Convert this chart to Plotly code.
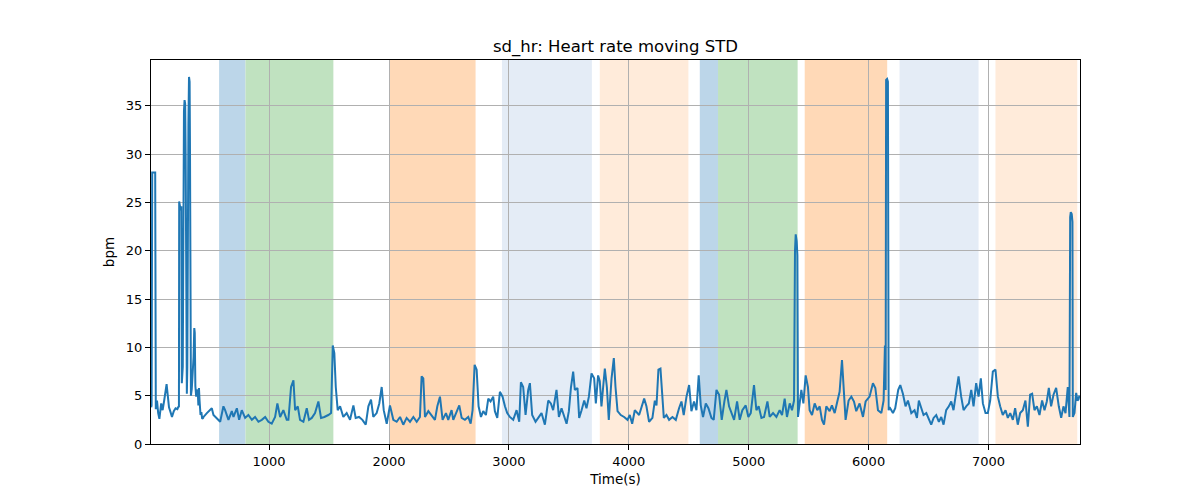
import plotly.graph_objects as go

# ---- data ----
time_s = [
    17, 20, 25, 50, 55, 65, 75, 85, 100, 112, 125, 135, 145, 155, 165, 178, 190, 205, 220, 235, 245,
    248, 250, 257, 262, 268, 272, 280, 285, 290, 295, 300, 304, 308, 314, 318, 322, 327, 332, 337, 340,
    344, 348, 355, 362, 370, 376, 380, 385, 392, 398, 405, 410, 415, 420, 428, 435, 442, 450,
    453, 481, 508, 522, 536, 564, 592, 619, 633, 661, 689, 703, 731, 750, 772, 800, 827, 856, 883, 911,
    939, 967, 994, 1022, 1050, 1069, 1092, 1119, 1147,
    1161, 1183, 1203, 1217, 1239, 1258, 1286, 1314, 1333, 1356, 1383, 1411, 1433, 1461, 1494, 1517,
    1531, 1544, 1556, 1572, 1592, 1619, 1647, 1675, 1703, 1722, 1750, 1778, 1806, 1828, 1850, 1869,
    1897, 1919, 1939, 1956, 1981, 2008, 2036, 2064, 2092, 2119,
    2147, 2175, 2203, 2231, 2258, 2272, 2286, 2300, 2328, 2356, 2383, 2403, 2425, 2447, 2475, 2494,
    2522, 2536, 2558, 2586, 2606, 2633, 2661, 2681, 2697, 2714, 2731, 2747, 2767, 2786, 2808, 2828,
    2847, 2869, 2883, 2903, 2925, 2947, 2967, 2986, 3008, 3036, 3064, 3086,
    3100, 3119, 3139, 3161, 3175, 3194, 3222, 3244, 3272, 3300, 3328, 3350, 3369, 3397, 3417, 3439,
    3461, 3481, 3500, 3517, 3536, 3550, 3572, 3586, 3606, 3628, 3647, 3667, 3689, 3711, 3725, 3744,
    3758, 3772, 3786, 3800, 3817, 3833, 3856, 3875, 3889, 3906, 3933, 3961, 3989, 4008, 4028,
    4050, 4086, 4114, 4128, 4147, 4169, 4197, 4217, 4231, 4247, 4264, 4278, 4292, 4314, 4336, 4364,
    4392, 4419, 4439, 4458, 4481, 4503, 4522, 4544, 4564, 4583, 4600, 4619, 4642, 4664, 4689, 4708,
    4731, 4753, 4775, 4797, 4814, 4836, 4856, 4878, 4903, 4925, 4947, 4975, 4997,
    5017, 5044, 5064, 5083, 5106, 5128, 5156, 5175, 5203, 5231, 5258, 5278, 5300, 5319, 5342, 5361,
    5378, 5386, 5392, 5400, 5406, 5411, 5425, 5439, 5456, 5475, 5494, 5508, 5528, 5550, 5572, 5592,
    5611, 5628, 5647, 5675, 5694, 5717, 5739, 5758, 5778, 5792, 5808, 5833, 5856, 5878, 5897, 5925,
    5953,
    5975, 6008, 6036, 6056, 6078, 6106, 6125, 6136, 6142, 6146, 6154, 6161, 6167, 6175, 6203, 6222,
    6247, 6264, 6286, 6308, 6328, 6356, 6383, 6403, 6419, 6439, 6458, 6481, 6503, 6522, 6542, 6564,
    6586, 6606, 6625, 6647, 6669, 6689, 6708, 6731, 6750, 6772, 6792, 6814, 6836, 6856, 6875, 6897,
    6917, 6936, 6953, 6975, 6994, 7014, 7036, 7058, 7078, 7097, 7119, 7142, 7161, 7181, 7203, 7222,
    7244, 7264, 7286, 7308, 7328, 7347, 7364, 7383, 7403, 7425, 7447, 7467, 7486, 7503, 7522, 7542,
    7564, 7586, 7606, 7625, 7642, 7661, 7675, 7681, 7686, 7694, 7700, 7703, 7717, 7731, 7742, 7750, 7758,
]
sd_hr = [
    3.8, 4.0, 28.1, 28.1, 3.6, 4.5, 3.2, 2.6, 4.2, 3.5, 4.5, 5.3, 6.2, 5.0, 3.8, 3.3, 2.8, 3.4, 3.7, 3.6, 3.9,
    3.8, 25.1, 24.6, 24.2, 24.6, 6.3, 8.0, 33.9, 34.5, 35.6, 35.2, 30.0, 6.0, 5.2, 8.0, 31.0, 33.0, 38.0, 37.5, 31.0,
    6.0, 5.0, 5.7, 7.0, 9.0, 12.0, 11.5, 6.0, 4.9, 5.6, 5.5, 4.0, 5.8, 4.5, 3.0, 3.3, 2.6, 2.7,
    2.8, 3.2, 3.5, 3.7, 3.0, 2.6, 2.3, 3.9, 3.5, 2.5, 3.4, 2.8, 3.7, 2.5, 3.5, 2.7, 3.0, 2.5, 2.8, 2.3,
    2.5, 2.8, 2.3, 2.1, 2.8, 4.2, 2.8, 3.5, 2.5,
    2.5, 5.9, 6.6, 3.5, 3.9, 2.5, 2.3, 3.7, 2.5, 2.7, 3.2, 4.4, 2.7, 2.8, 3.0, 3.2,
    10.2, 9.4, 5.9, 3.5, 3.9, 2.8, 3.2, 2.5, 4.0, 2.7, 2.8, 2.5, 2.0, 3.9, 4.6, 2.8,
    3.2, 4.2, 5.9, 3.5, 2.1, 4.0, 2.5, 2.3, 2.8, 2.0,
    2.7, 2.3, 2.8, 2.3, 2.8, 7.0, 6.8, 2.8, 3.4, 3.0, 2.5, 3.9, 4.9, 2.5, 3.2, 2.5,
    3.5, 2.5, 3.2, 4.0, 2.7, 2.5, 2.8, 2.1, 3.5, 8.2, 7.7, 3.9, 2.8, 3.4, 3.0, 4.7,
    4.4, 4.9, 3.4, 2.7, 5.4, 4.9, 3.9, 3.2, 2.8, 2.5, 3.5, 2.3,
    6.4, 5.9, 3.0, 5.6, 6.3, 3.0, 2.3, 2.7, 3.2, 2.0, 4.5, 4.2, 3.5, 5.6, 2.8, 3.7,
    2.8, 2.1, 3.4, 5.8, 7.5, 5.6, 5.8, 2.7, 3.5, 4.5, 3.7, 4.9, 7.3, 6.8, 4.2, 7.1,
    6.5, 3.9, 5.9, 7.8, 5.9, 2.5, 6.8, 8.9, 5.9, 3.4, 3.0, 2.8, 2.5, 3.0, 2.1,
    3.5, 3.0, 4.0, 4.7, 3.9, 2.3, 2.7, 4.5, 4.0, 7.7, 7.8, 4.9, 2.7, 3.0, 2.5, 2.8,
    2.5, 3.7, 4.4, 3.0, 4.9, 6.1, 3.4, 4.4, 3.5, 7.1, 4.0, 2.8, 4.2, 3.7, 2.7, 2.5,
    5.6, 5.1, 2.5, 4.4, 5.6, 3.9, 3.2, 2.5, 4.4, 2.5, 3.5, 4.0, 2.8,
    3.2, 6.1, 3.5, 3.9, 2.7, 2.8, 4.4, 2.8, 3.2, 2.8, 3.5, 3.0, 4.7, 2.8, 4.2, 3.5,
    4.5, 20.0, 21.7, 21.0, 19.5, 2.8, 4.5, 5.6, 4.2, 7.1, 5.9, 3.5, 3.0, 4.2, 3.5, 3.9,
    2.5, 2.0, 3.9, 3.4, 4.0, 3.2, 4.4, 5.4, 8.7, 5.2, 2.5, 4.5, 4.9, 4.4, 3.4, 4.2,
    2.8,
    4.4, 4.9, 6.3, 5.8, 3.5, 3.2, 4.5, 10.2, 5.6, 37.7, 37.8, 37.5, 3.5, 3.8, 3.2, 3.7,
    5.6, 6.1, 5.2, 3.9, 4.5, 3.2, 3.5, 2.7, 4.5, 3.7, 3.0, 3.2, 2.5, 2.0, 2.7, 3.0,
    2.3, 2.8, 2.0, 3.5, 3.9, 4.4, 3.5, 5.6, 7.0, 4.9, 3.5, 3.9, 4.2, 5.6, 3.9, 6.3,
    4.9, 6.8, 4.2, 3.2, 3.2, 4.5, 7.5, 7.7, 4.9, 3.9, 3.0, 3.5, 2.7, 3.2, 2.5, 3.7,
    2.0, 3.2, 3.5, 4.5, 1.8, 5.1, 5.2, 3.5, 3.9, 3.0, 4.5, 3.5, 4.4, 5.8, 3.9, 5.1,
    5.8, 3.9, 2.7, 3.9, 3.2, 5.9, 2.8, 23.5, 24.0, 23.8, 23.0, 2.8, 3.2, 5.3, 4.5, 4.6, 5.0,
]

# shaded intervals (start, end, colour)
span_start = [583, 803, 2003, 2942, 3758, 4592, 4744, 5467, 6258, 7058]
span_end = [803, 1536, 2722, 3692, 4497, 4744, 5408, 6155, 6917, 7740]
span_color = [
    "rgb(188,214,233)", "rgb(192,226,192)", "rgb(255,217,183)", "rgb(228,236,246)",
    "rgb(255,235,218)", "rgb(188,214,233)", "rgb(192,226,192)", "rgb(255,217,183)",
    "rgb(228,236,246)", "rgb(255,235,218)",
]

x_ticks = [1000, 2000, 3000, 4000, 5000, 6000, 7000]
y_ticks = [0, 5, 10, 15, 20, 25, 30, 35]

fig = go.Figure()
fig.add_trace(go.Scatter(x=time_s, y=sd_hr, mode="lines",
                         line=dict(color="#1f77b4", width=2), showlegend=False))

for s, e, c in zip(span_start, span_end, span_color):
    fig.add_vrect(x0=s, x1=e, fillcolor=c, opacity=1, line_width=0, layer="below")

font = "DejaVu Sans, sans-serif"
W, H = 1192, 492  # page body adds an 8px offset
fig.update_layout(
    width=W, height=H,
    margin=dict(l=143, r=120, t=52, b=56),
    paper_bgcolor="white", plot_bgcolor="white",
    font=dict(family=font, size=13, color="black"),
    title=dict(text="sd_hr: Heart rate moving STD", x=(143 + 1072) / 2 / W, xanchor="center",
               xref="paper" if False else "container",
               y=1 - 38 / H, yanchor="middle", font=dict(size=16.5, family=font)),
)
axis_common = dict(
    showline=True, linecolor="black", linewidth=1, mirror=True,
    ticks="outside", ticklen=5, tickwidth=1, tickcolor="black",
    showgrid=True, gridcolor="#b0b0b0", gridwidth=1, zeroline=False,
    tickfont=dict(size=13, family=font),
)
fig.update_xaxes(range=[15, 7763], tickvals=x_ticks, ticktext=[str(v) for v in x_ticks],
                 title=dict(text="Time(s)", standoff=6, font=dict(size=13.5)), **axis_common)
fig.update_yaxes(range=[0, 39.75], tickvals=y_ticks, ticktext=[str(v) for v in y_ticks],
                 title=dict(text="bpm", standoff=8, font=dict(size=13.5)), **axis_common)

fig.write_html("out.html")
